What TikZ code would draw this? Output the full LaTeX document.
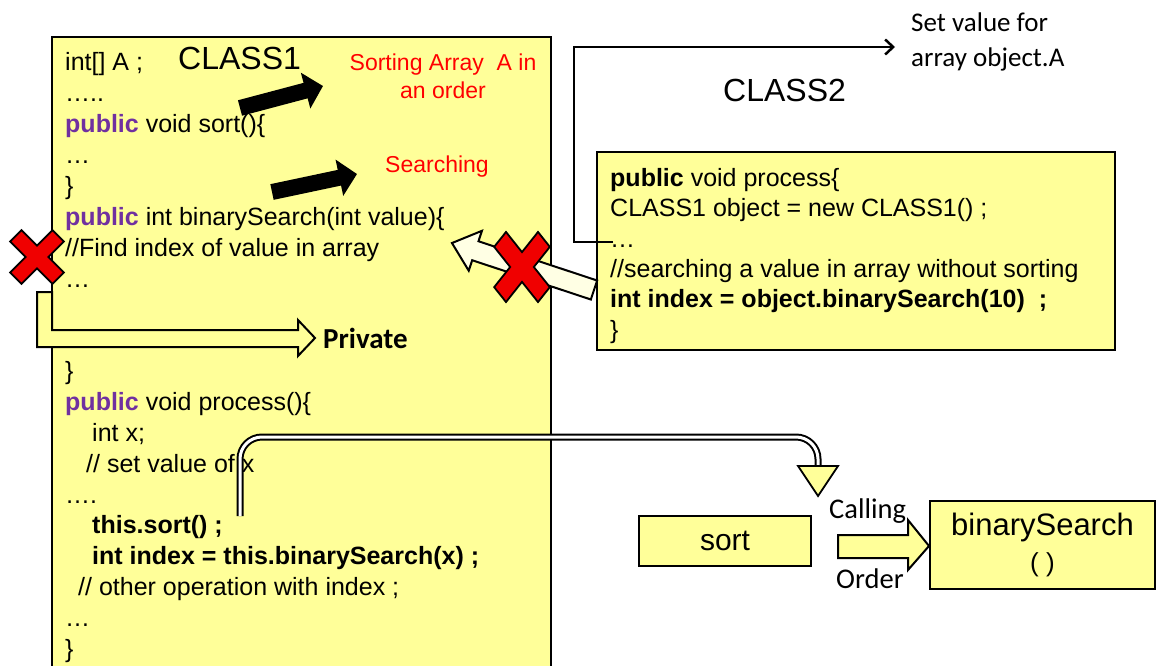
\documentclass[tikz,border=0pt]{standalone}
\usepackage{fontspec}
\setmainfont{Liberation Sans}
\newfontfamily\calfont{Carlito}
\usetikzlibrary{arrows.meta}
\definecolor{boxyellow}{RGB}{255,255,153}
\definecolor{pub}{RGB}{112,48,160}
\definecolor{cream}{RGB}{255,255,228}
\definecolor{xred}{RGB}{240,0,0}
\newcommand\pub{\textbf{\color{pub}public}}
\begin{document}
\begin{tikzpicture}[x=1pt,y=-1pt,
  code/.style={anchor=base west,inner sep=0pt,font=\fontsize{25}{29}\selectfont},
  redtext/.style={inner sep=0pt,text=red,font=\fontsize{23}{28}\selectfont},
  title/.style={anchor=base west,inner sep=0pt,font=\fontsize{32}{36}\selectfont},
  calibri/.style={inner sep=0pt,font=\calfont\fontsize{27}{32}\selectfont},
  ybox/.style={draw=black,fill=boxyellow,line width=2.2pt},
  blockarrow/.style={draw=black,line width=2pt,line join=miter},
  blackarrow/.style={line width=16pt,-{Triangle[length=18pt,width=36pt]}},
  redcross/.pic={\draw[fill=xred,line width=1.8pt,line join=miter,rotate=45]
     (-0.27,-1)--(0.27,-1)--(0.27,-0.27)--(1,-0.27)--(1,0.27)--(0.27,0.27)--(0.27,1)
     --(-0.27,1)--(-0.27,0.27)--(-1,0.27)--(-1,-0.27)--(-0.27,-0.27)--cycle;}
]
\useasboundingbox (0,0) rectangle (1157,666);
\fill[white] (0,0) rectangle (1157,666);

% CLASS1 box
\path[ybox] (52,672) -- (52,37) -- (551,37) -- (551,672);
% CLASS2 box
\node[ybox,minimum width=518pt,minimum height=198pt,inner sep=0pt] (class2) at (856,251) {};

% set value connector
\coordinate (svstart) at (613,242);
\coordinate (svend) at (895,47);
\draw[line width=2.5pt,-{Straight Barb[length=8pt,width=15pt,line width=2.5pt]}] (svstart) -| (574,47) -- (svend);
\node[calibri,anchor=base west] (sv1) at (911,32) {Set value for};
\node[calibri,anchor=base west] (sv2) at (911,67) {array object.A};

% titles
\node[title] (t1) at (178,70) {CLASS1};
\node[title] (t2) at (723,101.5) {CLASS2};

% CLASS1 code
\node[code] (a1) at (65,71) {int[] A ;};
\node[code] (a2) at (65,101.9) {…..};
\node[code] (a3) at (65,132.7) {\pub{} void sort()\{};
\node[code] (a4) at (65,163.6) {…};
\node[code] (a5) at (65,194.4) {\}};
\node[code] (a6) at (65,225.3) {\pub{} int binarySearch(int value)\{};
\node[code] (a7) at (65,256.1) {//Find index of value in array};
\node[code] (a8) at (65,287) {…};
\node[code] (a9) at (65,379.5) {\}};
\node[code] (a10) at (65,410.4) {\pub{} void process()\{};
\node[code] (a11) at (92,441.2) {int x;};
\node[code] (a12) at (86,472) {// set value of x};
\node[code] (a13) at (65,503) {….};
\node[code] (a14) at (92,533.8) {\textbf{this.sort() ;}};
\node[code] (a15) at (92,564.6) {\textbf{int index = this.binarySearch(x) ;}};
\node[code] (a16) at (78,595.5) {// other operation with index ;};
\node[code] (a17) at (65,626.3) {…};
\node[code] (a18) at (65,657.2) {\}};

% red notes
\node[redtext,anchor=base] (r1) at (443,70.5) {Sorting Array\ \ A in};
\node[redtext,anchor=base] (r2) at (443,98.5) {an order};
\node[redtext,anchor=base west] (r3) at (385,173) {Searching};

% CLASS2 code
\node[code] (b1) at (610,186) {\textbf{public} void process\{};
\node[code] (b2) at (610,216) {CLASS1 object = new CLASS1() ;};
\node[code] (b3) at (610,247) {…};
\node[code] (b4) at (610,277) {//searching a value in array without sorting};
\node[code] (b5) at (610,307) {\textbf{int index = object.binarySearch(10)\ \ ;}};
\node[code] (b6) at (610,338) {\}};

% black arrows
\draw[blackarrow] (240,108) -- (323,86);
\draw[blackarrow] (272,192) -- (357,174);

% Private block arrow
\path[blockarrow,fill=boxyellow] (37,292) -- (52,292) -- (52,330) -- (298,330) -- (298,320)
  -- (315,338) -- (298,356) -- (298,347) -- (37,347) -- cycle;
\node[inner sep=0pt,anchor=base west,font=\calfont\bfseries\fontsize{29}{32}\selectfont] (priv) at (323,348) {Private};

% cream arrow from CLASS2 to binarySearch
\begin{scope}[shift={(594,290)},rotate=161.7]
\path[blockarrow,fill=cream] (0,-10) -- (125,-10) -- (125,-21) -- (149.6,0) -- (125,21) -- (125,10) -- (0,10) -- cycle;
\end{scope}

% red crosses
\path (37,257) pic[scale=30] {redcross};
\path (522,267) pic[xscale=31,yscale=39] {redcross};

% calling double arrow
\coordinate (cstart) at (240,516);
\coordinate (cend) at (818,466);
\draw[line width=2pt,double=white,double distance=3pt,rounded corners=22pt] (cstart) -- (240,437) -- (818,437) -- (cend);
\path[blockarrow,fill=boxyellow,line width=1.8pt] (798,466) -- (838,466) -- (818,496) -- cycle;

% bottom right
\node[ybox,minimum width=172pt,minimum height=50pt,inner sep=0pt,font=\fontsize{30}{34}\selectfont] (sortbox) at (725,541) {sort};
\node[ybox,minimum width=225pt,minimum height=88pt,inner sep=0pt,align=center,font=\fontsize{31}{31}\selectfont] (bsbox) at (1042.5,545) {binarySearch\\[5pt]{\fontsize{26}{26}\selectfont( )}};
\path[blockarrow,fill=boxyellow] (838,535) -- (908,535) -- (908,520) -- (929,546) -- (908,570) -- (908,558) -- (838,558) -- cycle;
\node[calibri,anchor=base west,font=\calfont\fontsize{28.5}{32}\selectfont] (calling) at (829,518) {Calling};
\node[calibri,anchor=base west,font=\calfont\fontsize{28.5}{32}\selectfont] (order) at (836,588) {Order};
\end{tikzpicture}
\end{document}
